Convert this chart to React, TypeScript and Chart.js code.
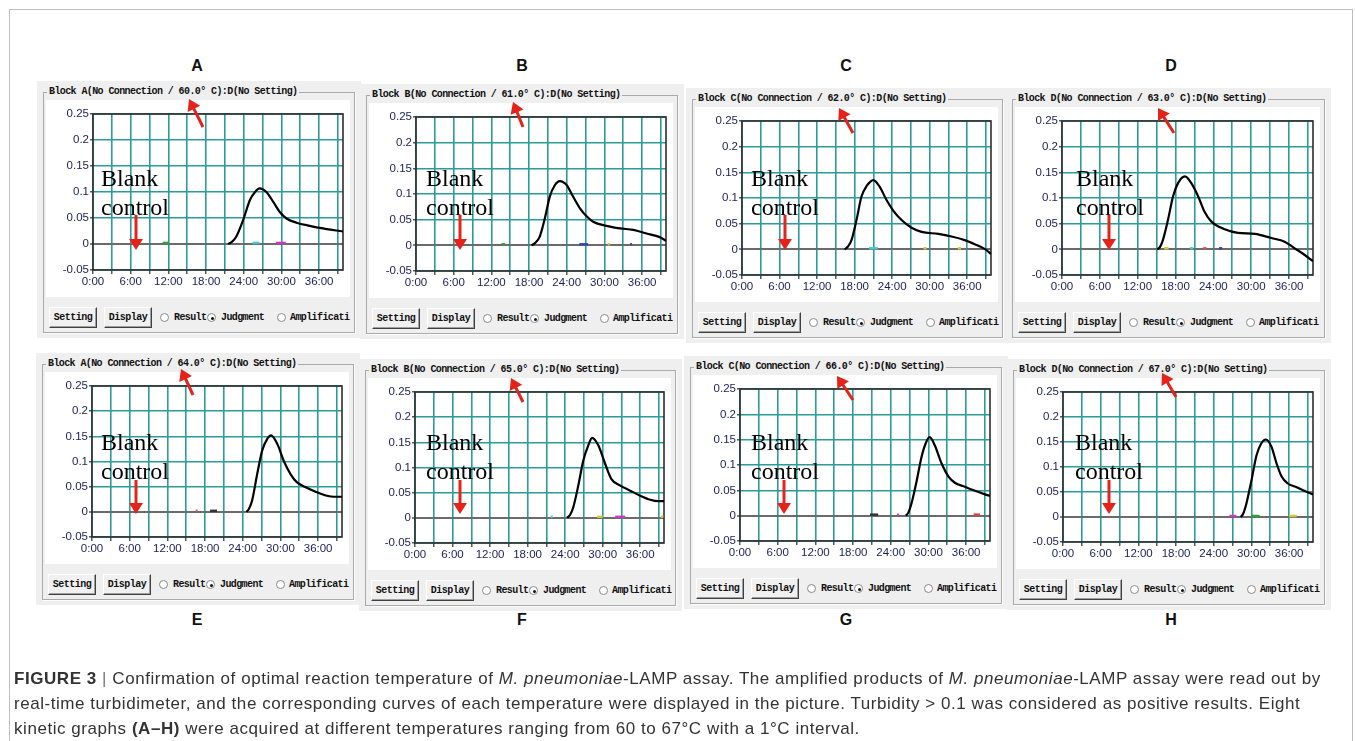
import React, { useEffect, useRef } from "react";
import { Chart, registerables } from "chart.js";

Chart.register(...registerables);

// ---------------- DATA ----------------
const panelLetters = ["A", "B", "C", "D", "E", "F", "G", "H"];
const blockNames = ["A", "B", "C", "D", "A", "B", "C", "D"];
const temperatures = ["60.0", "61.0", "62.0", "63.0", "64.0", "65.0", "66.0", "67.0"];

const xMin = 0;
const xMax = 39.8;
const xStep = 3;
const yMin = -0.05;
const yMax = 0.25;
const yStep = 0.05;

// time (min) / turbidity of the positive curve in each panel
const timeA = [21.5, 22.1, 22.8, 23.9, 25.0, 25.8, 26.5, 27.6, 28.7, 29.7, 30.8, 32.4, 34.5, 36.6, 39.8];
const turbA = [0, 0.004, 0.014, 0.046, 0.085, 0.1, 0.107, 0.1, 0.081, 0.062, 0.049, 0.041, 0.035, 0.03, 0.024];

const timeB = [18.4, 19.0, 19.7, 20.5, 21.3, 22.1, 22.9, 24.0, 25.0, 26.1, 27.2, 28.2, 30.3, 32.5, 34.6, 36.7, 38.8, 39.8];
const turbB = [0, 0.005, 0.017, 0.052, 0.095, 0.117, 0.125, 0.117, 0.095, 0.072, 0.056, 0.046, 0.038, 0.033, 0.03, 0.023, 0.016, 0.009];

const timeC = [16.4, 16.9, 17.5, 18.3, 19.1, 19.9, 21.0, 22.0, 23.1, 24.2, 25.5, 27.1, 28.7, 31.4, 33.5, 35.6, 37.2, 38.9, 39.8];
const turbC = [0, 0.005, 0.018, 0.057, 0.103, 0.123, 0.135, 0.122, 0.096, 0.075, 0.057, 0.042, 0.034, 0.03, 0.025, 0.018, 0.01, 0.0, -0.009];

const timeD = [15.1, 15.5, 16.0, 16.8, 17.6, 18.4, 19.5, 20.5, 21.6, 22.6, 23.7, 25.8, 27.9, 30.6, 33.2, 35.3, 36.9, 38.5, 39.8];
const turbD = [0, 0.004, 0.018, 0.057, 0.103, 0.129, 0.142, 0.129, 0.103, 0.073, 0.054, 0.039, 0.032, 0.03, 0.022, 0.015, 0.002, -0.011, -0.023];

const timeE = [24.6, 25.0, 25.5, 26.3, 27.1, 27.9, 28.5, 29.5, 30.5, 31.6, 32.6, 34.2, 35.8, 37.4, 38.5, 39.8];
const turbE = [0, 0.006, 0.023, 0.075, 0.122, 0.145, 0.152, 0.135, 0.102, 0.075, 0.059, 0.048, 0.039, 0.032, 0.03, 0.03];

const timeF = [24.3, 24.8, 25.3, 26.1, 26.9, 27.7, 28.3, 29.3, 30.4, 31.4, 32.8, 34.4, 36.0, 37.6, 38.9, 39.8];
const turbF = [0, 0.006, 0.021, 0.064, 0.114, 0.144, 0.159, 0.144, 0.107, 0.077, 0.064, 0.054, 0.044, 0.036, 0.033, 0.033];

const timeG = [26.4, 26.8, 27.3, 28.1, 28.9, 29.6, 30.2, 31.0, 32.1, 33.2, 34.2, 35.8, 37.4, 39.0, 39.8];
const turbG = [0, 0.006, 0.024, 0.067, 0.116, 0.144, 0.155, 0.139, 0.103, 0.077, 0.065, 0.057, 0.049, 0.042, 0.039];

const timeH = [28.3, 28.7, 29.2, 30.0, 30.8, 31.6, 32.3, 33.2, 34.0, 34.8, 35.8, 37.1, 38.5, 39.8];
const turbH = [0, 0.007, 0.027, 0.073, 0.123, 0.148, 0.155, 0.14, 0.107, 0.081, 0.067, 0.06, 0.052, 0.045];

// short flat traces of the other wells lying on the baseline: [start, end] (min)
const blipsA = [[11.1, 12.1], [25.4, 26.5], [29.1, 30.7]];
const blipsB = [[13.6, 14.2], [26.0, 27.4], [30.5, 30.9], [34.1, 34.4]];
const blipsC = [[20.3, 21.7], [29.0, 29.5], [34.5, 35.0]];
const blipsD = [[16.2, 16.9], [20.3, 20.8], [22.4, 22.9], [24.9, 25.4]];
const blipsE = [[16.5, 16.8], [18.8, 19.9]];
const blipsF = [[21.7, 22.0], [29.1, 30.0], [32.0, 33.6], [39.3, 39.7]];
const blipsG = [[20.7, 22.0], [25.0, 25.3], [37.2, 38.2]];
const blipsH = [[26.5, 27.6], [30.0, 31.3], [36.0, 37.2]];
const blipLevel = 0.002;

const blipColorsA = ["#2f9e3f", "#45c4d6", "#c23cc2"];
const blipColorsB = ["#2f9e3f", "#3344bb", "#d4c43a", "#3344bb"];
const blipColorsC = ["#45c4d6", "#d4c43a", "#d4c43a"];
const blipColorsD = ["#d4c43a", "#45c4d6", "#e05050", "#3344bb"];
const blipColorsE = ["#e05050", "#333333"];
const blipColorsF = ["#45c4d6", "#d4c43a", "#c23cc2", "#d4c43a"];
const blipColorsG = ["#333333", "#c23cc2", "#e04040"];
const blipColorsH = ["#c23cc2", "#2f9e3f", "#d4c43a"];

const curveTimes = [timeA, timeB, timeC, timeD, timeE, timeF, timeG, timeH];
const curveValues = [turbA, turbB, turbC, turbD, turbE, turbF, turbG, turbH];
const blipSets = [blipsA, blipsB, blipsC, blipsD, blipsE, blipsF, blipsG, blipsH];
const blipColorSets = [blipColorsA, blipColorsB, blipColorsC, blipColorsD, blipColorsE, blipColorsF, blipColorsG, blipColorsH];

// ---------------- LAYOUT ----------------
// plot area of each panel: [left, top, right, bottom] in page pixels
const PLOT_RECTS = [
  [93, 114, 343, 270],
  [416, 117, 666, 271],
  [742, 121, 991, 275],
  [1062, 121, 1313, 275],
  [92, 386, 342, 537],
  [415, 392, 664, 543],
  [740, 389, 990, 541],
  [1063, 392, 1313, 542],
];
const LETTER_POS = [
  [197, 66], [522, 66], [846, 66], [1171, 66],
  [197, 620], [522, 620], [846, 620], [1171, 620],
];
const BLANK_POS = [
  [101, 164], [426, 164], [751, 164], [1076, 164],
  [101, 428], [426, 428], [751, 428], [1075, 428],
];
const DOWN_ARROWS = [
  [136, 215, 136, 250], [460, 215, 460, 250], [785, 215, 785, 250], [1109, 215, 1109, 250],
  [136, 480, 136, 514], [460, 480, 460, 514], [784, 480, 784, 514], [1109, 480, 1109, 514],
];
const TEMP_ARROWS = [
  [203, 127, 189, 99], [523, 127, 513, 102], [853, 133, 839, 108], [1174, 133, 1158, 108],
  [193, 395, 181, 369], [523, 402, 511, 378], [853, 400, 837, 376], [1176, 397, 1162, 373],
];

const AX_W = 47;
const AX_H = 27;
const PAD_T = 14;
const PAD_R = 7;
const TEAL = "#2a9d9a";
const WIN_GRAY = "#efefef";
const MONO = "'Liberation Mono', 'DejaVu Sans Mono', monospace";
const SANS = "'Liberation Sans', Arial, sans-serif";
const SERIF = "'Liberation Serif', 'Times New Roman', serif";
const RED = "#e5231b";

const framePlugin = {
  id: "frameBox",
  beforeDatasetsDraw(chart: any) {
    const { ctx, chartArea } = chart;
    ctx.save();
    ctx.strokeStyle = "#2e2e2e";
    ctx.lineWidth = 1.6;
    ctx.strokeRect(chartArea.left, chartArea.top, chartArea.right - chartArea.left, chartArea.bottom - chartArea.top);
    ctx.restore();
  },
};

function fmtY(v: number) {
  return String(Math.round(v * 100) / 100);
}

function PanelChart({ idx }: { idx: number }) {
  const ref = useRef<HTMLCanvasElement>(null);
  const [l, t, r, b] = PLOT_RECTS[idx];
  const cw = r - l + AX_W + PAD_R;
  const ch = b - t + AX_H + PAD_T;

  useEffect(() => {
    if (!ref.current) return;
    const times = curveTimes[idx];
    const vals = curveValues[idx];
    const datasets: any[] = [];
    blipSets[idx].forEach((bl, i) => {
      datasets.push({
        data: [
          { x: bl[0], y: blipLevel },
          { x: bl[1], y: blipLevel },
        ],
        borderColor: blipColorSets[idx][i],
        borderWidth: 2.5,
        pointRadius: 0,
      });
    });
    datasets.push({
      data: times.map((x, i) => ({ x, y: vals[i] })),
      borderColor: "#000",
      borderWidth: 2.2,
      pointRadius: 0,
      cubicInterpolationMode: "monotone",
    });
    const chart = new Chart(ref.current, {
      type: "line",
      data: { datasets },
      plugins: [framePlugin],
      options: {
        animation: false,
        responsive: false,
        maintainAspectRatio: false,
        devicePixelRatio: 1,
        layout: { padding: { top: PAD_T, right: PAD_R, left: 0, bottom: 0 } },
        plugins: { legend: { display: false }, tooltip: { enabled: false } },
        scales: {
          x: {
            type: "linear",
            min: xMin,
            max: xMax,
            afterFit: (s: any) => {
              s.height = AX_H;
            },
            border: { display: false },
            grid: {
              color: TEAL,
              lineWidth: 1.6,
              tickColor: "#2e2e2e",
              tickLength: 4,
              tickWidth: 1.2,
            },
            ticks: {
              stepSize: xStep,
              includeBounds: false,
              autoSkip: false,
              maxRotation: 0,
              padding: 1,
              color: "#1a1f5a",
              font: { family: SANS, size: 11.5 },
              callback: (v: any) => {
                const n = Math.round(Number(v));
                return n % 6 === 0 ? `${n}:00` : "";
              },
            },
          },
          y: {
            type: "linear",
            min: yMin,
            max: yMax,
            afterFit: (s: any) => {
              s.width = AX_W;
            },
            border: { display: false },
            grid: {
              color: (c: any) => (c.tick && Math.abs(c.tick.value) < 1e-9 ? "#6b6b6b" : TEAL),
              lineWidth: (c: any) => (c.tick && Math.abs(c.tick.value) < 1e-9 ? 2 : 1.6),
              tickColor: "#2e2e2e",
              tickLength: 3,
              tickWidth: 1.2,
            },
            ticks: {
              stepSize: yStep,
              padding: 1,
              color: "#1a1f5a",
              font: { family: SANS, size: 11.5 },
              callback: (v: any) => fmtY(Number(v)),
            },
          },
        },
      },
    });
    return () => chart.destroy();
  }, [idx]);

  return (
    <canvas
      ref={ref}
      width={cw}
      height={ch}
      style={{ position: "absolute", left: l - AX_W, top: t - PAD_T, width: cw, height: ch }}
    />
  );
}

function Radio({ x, y, checked }: { x: number; y: number; checked?: boolean }) {
  return (
    <div
      style={{
        position: "absolute",
        left: x,
        top: y,
        width: 9,
        height: 9,
        borderRadius: "50%",
        border: "1px solid #8a8a8a",
        background: "#fff",
        boxSizing: "border-box",
      }}
    >
      {checked ? (
        <div style={{ position: "absolute", left: 2.5, top: 2.5, width: 3, height: 3, borderRadius: "50%", background: "#111" }} />
      ) : null}
    </div>
  );
}

function Button({ x, y, label }: { x: number; y: number; label: string }) {
  return (
    <div
      style={{
        position: "absolute",
        left: x,
        top: y,
        width: 48,
        height: 21,
        boxSizing: "border-box",
        background: "#f0f0f0",
        borderTop: "1px solid #fff",
        borderLeft: "1px solid #fff",
        borderRight: "1px solid #404040",
        borderBottom: "1px solid #404040",
        boxShadow: "inset -1px -1px 0 #a0a0a0",
        font: `bold 10px ${MONO}`,
        letterSpacing: -0.5,
        lineHeight: "19px",
        textAlign: "center",
        color: "#111",
        whiteSpace: "nowrap",
      }}
    >
      {label}
    </div>
  );
}

function PanelChrome({ idx }: { idx: number }) {
  const [l, t, r, b] = PLOT_RECTS[idx];
  const gL = l - 50;
  const gT = t - 22;
  const gR = r + 12;
  const gB = b + 63;
  const textStyle: React.CSSProperties = {
    position: "absolute",
    font: `bold 10px ${MONO}`,
    letterSpacing: -0.6,
    color: "#111",
    whiteSpace: "nowrap",
    lineHeight: "12px",
  };
  const rowY = b + 37;
  return (
    <>
      <div style={{ position: "absolute", left: gL - 6, top: gT - 11, width: gR - gL + 12, height: gB - gT + 16, background: WIN_GRAY }} />
      <div
        style={{
          position: "absolute",
          left: gL,
          top: gT,
          width: gR - gL,
          height: gB - gT,
          border: "1px solid #a9a9a9",
          boxSizing: "border-box",
          boxShadow: "1px 1px 0 #fff",
        }}
      />
      <div style={{ position: "absolute", left: l - 47, top: t - 14, width: r - l + 54, height: b - t + 41, background: "#fff" }} />
      <div style={{ ...textStyle, left: gL + 4, top: gT - 6, background: WIN_GRAY, padding: "0 2px" }}>
        {`Block ${blockNames[idx]}(No Connection / ${temperatures[idx]}° C):D(No Setting)`}
      </div>
      <Button x={l - 44} y={rowY} label="Setting" />
      <Button x={l + 11} y={rowY} label="Display" />
      <Radio x={l + 67} y={rowY + 6} />
      <div style={{ ...textStyle, left: l + 81, top: rowY + 5 }}>Result</div>
      <Radio x={l + 114} y={rowY + 6} checked />
      <div style={{ ...textStyle, left: l + 128, top: rowY + 5 }}>Judgment</div>
      <Radio x={l + 184} y={rowY + 6} />
      <div style={{ ...textStyle, left: l + 197, top: rowY + 5 }}>Amplificati</div>
    </>
  );
}

function Arrow({ x1, y1, x2, y2 }: { x1: number; y1: number; x2: number; y2: number }) {
  const dx = x2 - x1;
  const dy = y2 - y1;
  const len = Math.hypot(dx, dy);
  const ux = dx / len;
  const uy = dy / len;
  const hl = 11;
  const hw = 7;
  const bx = x2 - ux * hl;
  const by = y2 - uy * hl;
  const px = -uy;
  const py = ux;
  const pts = `${x2},${y2} ${bx + px * hw},${by + py * hw} ${bx - px * hw},${by - py * hw}`;
  return (
    <g>
      <line x1={x1} y1={y1} x2={bx + ux * 2} y2={by + uy * 2} stroke={RED} strokeWidth={3} />
      <polygon points={pts} fill={RED} />
    </g>
  );
}

export default function App() {
  const capLine: React.CSSProperties = { whiteSpace: "nowrap", letterSpacing: 0.55 };
  return (
    <div
      style={{
        position: "absolute",
        left: 0,
        top: 0,
        width: 1355,
        height: 741,
        overflow: "hidden",
        background: "#fff",
      }}
    >
      <div
        style={{
          position: "absolute",
          left: 9,
          top: 9,
          width: 1344,
          height: 760,
          border: "1px solid #bdbdbd",
          boxSizing: "border-box",
        }}
      />
      {panelLetters.map((_, i) => (
        <PanelChrome key={"c" + i} idx={i} />
      ))}
      {panelLetters.map((_, i) => (
        <PanelChart key={"p" + i} idx={i} />
      ))}
      {panelLetters.map((letter, i) => (
        <div
          key={"l" + i}
          style={{
            position: "absolute",
            left: LETTER_POS[i][0],
            top: LETTER_POS[i][1],
            transform: "translate(-50%, -50%)",
            font: `bold 16px ${SANS}`,
            color: "#111",
          }}
        >
          {letter}
        </div>
      ))}
      {BLANK_POS.map((p, i) => (
        <div
          key={"b" + i}
          style={{
            position: "absolute",
            left: p[0],
            top: p[1],
            font: `24px ${SERIF}`,
            lineHeight: "29px",
            color: "#000",
            whiteSpace: "nowrap",
          }}
        >
          Blank
          <br />
          control
        </div>
      ))}
      <svg width={1355} height={741} style={{ position: "absolute", left: 0, top: 0 }}>
        {DOWN_ARROWS.map((a, i) => (
          <Arrow key={"d" + i} x1={a[0]} y1={a[1]} x2={a[2]} y2={a[3]} />
        ))}
        {TEMP_ARROWS.map((a, i) => (
          <Arrow key={"t" + i} x1={a[0]} y1={a[1]} x2={a[2]} y2={a[3]} />
        ))}
      </svg>
      <div
        style={{
          position: "absolute",
          left: 14,
          top: 666,
          font: `17px ${SANS}`,
          lineHeight: "25px",
          color: "#333",
        }}
      >
        <div style={capLine}>
          <b>FIGURE 3</b> <span style={{ color: "#777" }}>|</span> Confirmation of optimal reaction temperature of <i>M. pneumoniae</i>-LAMP assay. The amplified products of <i>M. pneumoniae</i>-LAMP assay were read out by
        </div>
        <div style={capLine}>
          real-time turbidimeter, and the corresponding curves of each temperature were displayed in the picture. Turbidity &gt; 0.1 was considered as positive results. Eight
        </div>
        <div style={capLine}>
          kinetic graphs <b>(A–H)</b> were acquired at different temperatures ranging from 60 to 67°C with a 1°C interval.
        </div>
      </div>
    </div>
  );
}
